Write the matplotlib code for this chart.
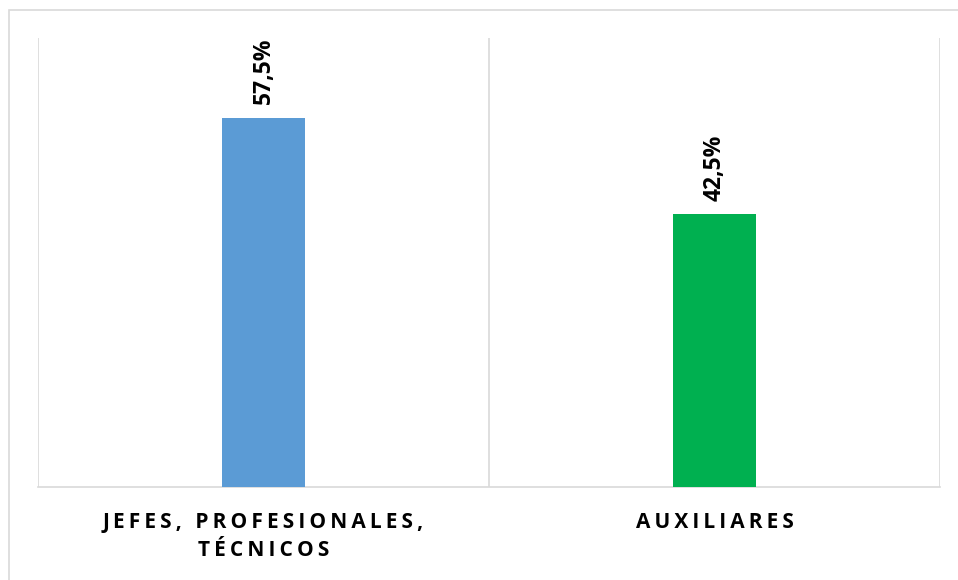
import matplotlib.pyplot as plt
from matplotlib.patches import Rectangle

categories = ['JEFES, PROFESIONALES,\nTÉCNICOS', 'AUXILIARES']
values = [57.5, 42.5]
value_labels = ['57,5%', '42,5%']
colors = ['#5B9BD5', '#00B050']

W, H = 958, 580
fig = plt.figure(figsize=(W / 100, H / 100), dpi=100)
fig.patch.set_facecolor('white')

# outer chart frame (only top/left edges visible in the crop)
fig.add_artist(Rectangle((9 / W, -0.1), 1.2, (H - 10) / H + 0.1,
                         transform=fig.transFigure, fill=False,
                         edgecolor='#d9d9d9', linewidth=1.2))

ax = fig.add_axes([38 / W, 1 - 487 / H, (940 - 38) / W, (487 - 38) / H])
x = list(range(len(categories)))
ax.bar(x, values, width=0.184, color=colors, zorder=3)
ax.set_xlim(-0.5, len(categories) - 0.5)
ax.set_ylim(0, 70)

for xv in [-0.5, 0.5, 1.5]:
    ax.axvline(xv, color='#d9d9d9', linewidth=1.2, zorder=1)

for s in ['top', 'left', 'right']:
    ax.spines[s].set_visible(False)
ax.spines['bottom'].set_color('#d9d9d9')
ax.spines['bottom'].set_linewidth(1.2)
ax.set_yticks([])
ax.set_xticks(x)

def spaced(t):
    return '\n'.join('\u2009'.join(line) for line in t.split('\n'))

ax.set_xticklabels([spaced(c) for c in categories], fontsize=15, fontweight='bold',
                   family=['Open Sans', 'DejaVu Sans'], linespacing=1.45)
ax.tick_params(axis='x', length=0, pad=18)

for xi, v, lab in zip(x, values, value_labels):
    ax.annotate(lab, (xi, v), xytext=(0, 10), textcoords='offset points',
                rotation=90, ha='center', va='bottom', fontsize=16.5,
                fontweight='bold', family=['Open Sans', 'DejaVu Sans'])

fig.savefig('out.png', dpi=100)
